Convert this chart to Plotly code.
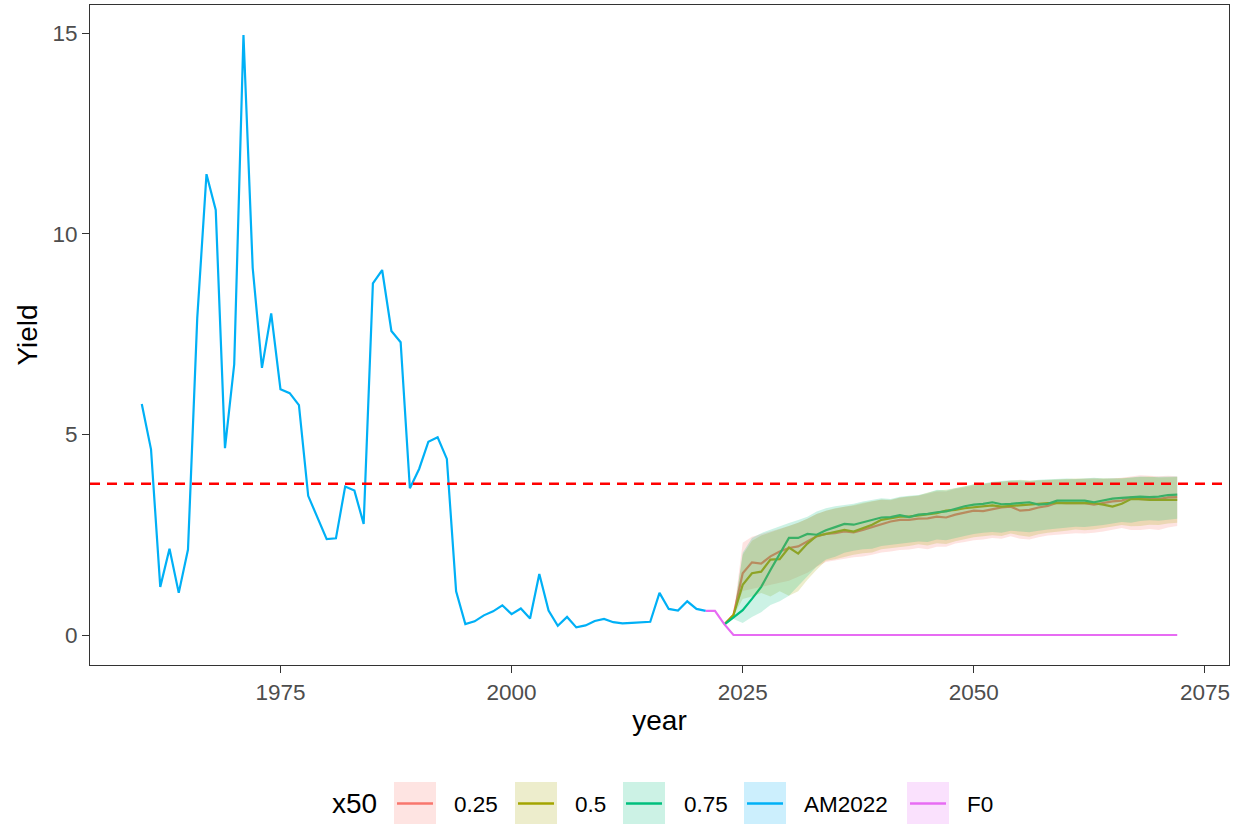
import plotly.graph_objects as go

# ---------------- data ----------------
hist_years = list(range(1960, 2022))
am2022 = [5.76, 4.63, 1.20, 2.15, 1.05, 2.13, 7.90, 11.49, 10.60, 4.66,
          6.75, 14.96, 9.15, 6.66, 8.02, 6.13, 6.03, 5.73, 3.47, 2.95,
          2.39, 2.41, 3.70, 3.60, 2.77, 8.77, 9.10, 7.58, 7.30, 3.66,
          4.14, 4.82, 4.93, 4.39, 1.09, 0.27, 0.34, 0.49, 0.59, 0.74,
          0.52, 0.66, 0.41, 1.52, 0.61, 0.23, 0.45, 0.19, 0.24, 0.35,
          0.40, 0.32, 0.29, 0.30, 0.31, 0.33, 1.05, 0.65, 0.61, 0.84,
          0.65, 0.60]

f0_years = list(range(2021, 2073))
f0 = [0.60, 0.60, 0.27] + [0.0] * 49

proj_years = list(range(2023, 2073))

x025 = [0.26, 0.50, 1.54, 1.81, 1.78, 1.96, 2.08, 2.17, 2.21, 2.33,
        2.46, 2.52, 2.54, 2.58, 2.56, 2.62, 2.69, 2.76, 2.83, 2.87,
        2.87, 2.90, 2.91, 2.95, 2.93, 3.00, 3.05, 3.10, 3.09, 3.14,
        3.18, 3.20, 3.10, 3.12, 3.18, 3.22, 3.30, 3.29, 3.29, 3.29,
        3.25, 3.29, 3.33, 3.35, 3.43, 3.39, 3.39, 3.39, 3.43, 3.44]
x025_lo = [0.26, 0.50, 1.10, 1.15, 1.20, 1.25, 1.30, 1.35, 1.45, 1.55,
           1.70, 1.82, 1.86, 1.90, 1.94, 1.96, 2.00, 2.06, 2.08, 2.12,
           2.13, 2.17, 2.14, 2.20, 2.20, 2.28, 2.32, 2.36, 2.38, 2.42,
           2.40, 2.46, 2.40, 2.38, 2.44, 2.48, 2.50, 2.52, 2.54, 2.53,
           2.55, 2.58, 2.62, 2.67, 2.62, 2.62, 2.64, 2.62, 2.68, 2.72]
x025_hi = [0.26, 0.50, 2.30, 2.45, 2.52, 2.58, 2.65, 2.72, 2.80, 2.90,
           3.02, 3.10, 3.15, 3.20, 3.22, 3.28, 3.33, 3.37, 3.36, 3.42,
           3.44, 3.47, 3.52, 3.58, 3.58, 3.64, 3.68, 3.73, 3.76, 3.80,
           3.82, 3.84, 3.83, 3.82, 3.85, 3.86, 3.87, 3.88, 3.88, 3.90,
           3.90, 3.89, 3.90, 3.92, 3.95, 3.98, 3.97, 3.96, 3.97, 3.96]

x050 = [0.26, 0.50, 1.25, 1.54, 1.58, 1.88, 1.89, 2.18, 2.03, 2.28,
        2.47, 2.52, 2.58, 2.62, 2.58, 2.66, 2.75, 2.87, 2.91, 2.95,
        2.95, 2.98, 3.01, 3.04, 3.10, 3.12, 3.16, 3.18, 3.20, 3.23,
        3.20, 3.22, 3.24, 3.26, 3.27, 3.29, 3.29, 3.29, 3.29, 3.29,
        3.29, 3.25, 3.20, 3.27, 3.39, 3.39, 3.37, 3.37, 3.37, 3.37]
x050_lo = [0.26, 0.48, 0.90, 0.96, 1.05, 0.96, 1.09, 0.98, 1.09, 1.38,
           1.63, 1.85, 1.89, 1.94, 2.00, 2.04, 2.06, 2.14, 2.16, 2.19,
           2.22, 2.26, 2.23, 2.29, 2.27, 2.34, 2.39, 2.44, 2.46, 2.49,
           2.47, 2.53, 2.48, 2.45, 2.51, 2.55, 2.58, 2.60, 2.63, 2.61,
           2.63, 2.66, 2.70, 2.74, 2.71, 2.72, 2.75, 2.74, 2.78, 2.80]
x050_hi = [0.26, 0.50, 2.00, 2.35, 2.48, 2.56, 2.64, 2.72, 2.80, 2.90,
           3.02, 3.10, 3.16, 3.20, 3.24, 3.30, 3.34, 3.38, 3.37, 3.43,
           3.46, 3.48, 3.55, 3.60, 3.62, 3.66, 3.70, 3.75, 3.77, 3.80,
           3.83, 3.85, 3.87, 3.85, 3.86, 3.87, 3.89, 3.89, 3.90, 3.90,
           3.91, 3.91, 3.90, 3.91, 3.92, 3.94, 3.95, 3.93, 3.94, 3.94]

x075 = [0.26, 0.44, 0.62, 0.90, 1.20, 1.62, 2.02, 2.42, 2.42, 2.52,
        2.50, 2.61, 2.69, 2.77, 2.75, 2.81, 2.87, 2.93, 2.94, 2.99,
        2.94, 3.00, 3.02, 3.06, 3.08, 3.14, 3.21, 3.25, 3.27, 3.31,
        3.26, 3.27, 3.29, 3.31, 3.25, 3.27, 3.35, 3.35, 3.35, 3.35,
        3.31, 3.35, 3.40, 3.42, 3.44, 3.45, 3.44, 3.45, 3.49, 3.50]
x075_lo = [0.26, 0.40, 0.30, 0.45, 0.57, 0.75, 0.84, 0.98, 1.21, 1.46,
           1.71, 1.88, 1.95, 2.05, 2.10, 2.14, 2.15, 2.22, 2.25, 2.28,
           2.30, 2.33, 2.32, 2.38, 2.36, 2.42, 2.47, 2.52, 2.55, 2.57,
           2.55, 2.60, 2.58, 2.56, 2.60, 2.63, 2.66, 2.68, 2.70, 2.69,
           2.72, 2.74, 2.78, 2.82, 2.80, 2.84, 2.86, 2.85, 2.88, 2.90]
x075_hi = [0.26, 0.45, 2.05, 2.42, 2.54, 2.63, 2.71, 2.79, 2.87, 2.95,
           3.08, 3.16, 3.21, 3.24, 3.27, 3.33, 3.37, 3.41, 3.39, 3.45,
           3.47, 3.49, 3.54, 3.62, 3.60, 3.66, 3.70, 3.76, 3.78, 3.82,
           3.84, 3.86, 3.86, 3.84, 3.87, 3.88, 3.88, 3.90, 3.89, 3.91,
           3.92, 3.90, 3.91, 3.90, 3.93, 3.95, 3.94, 3.94, 3.95, 3.95]

ref_yield = 3.77

legend_labels = ["0.25", "0.5", "0.75", "AM2022", "F0"]
x_ticks = [1975, 2000, 2025, 2050, 2075]
y_ticks = [0, 5, 10, 15]

# ---------------- styling ----------------
COL = {"0.25": "#F8766D", "0.5": "#A3A500", "0.75": "#00BF7D",
       "AM2022": "#00B0F6", "F0": "#E76BF3"}
FILL = {"0.25": "rgba(248,118,109,0.2)", "0.5": "rgba(163,165,0,0.2)",
        "0.75": "rgba(0,191,125,0.2)", "AM2022": "rgba(0,176,246,0.2)",
        "F0": "rgba(231,107,243,0.2)"}
FONT = "Liberation Sans, Arial, sans-serif"
LW = 2.2

W, H = 1247, 824
ML, MR, MT, MB = 90, 18, 5, 159
PW, PH = W - ML - MR, H - MT - MB

fig = go.Figure()

lines = [("0.25", proj_years, x025), ("0.5", proj_years, x050),
         ("0.75", proj_years, x075), ("AM2022", hist_years, am2022),
         ("F0", f0_years, f0)]
for name, xs, ys in lines:
    fig.add_trace(go.Scatter(x=xs, y=ys, mode="lines", name=name,
                             line=dict(color=COL[name], width=LW),
                             showlegend=False))

bands = [("0.25", x025_lo, x025_hi), ("0.5", x050_lo, x050_hi),
         ("0.75", x075_lo, x075_hi)]
for name, lo, hi in bands:
    fig.add_trace(go.Scatter(x=proj_years + proj_years[::-1],
                             y=hi + lo[::-1], mode="lines", fill="toself",
                             fillcolor=FILL[name], line=dict(width=0),
                             hoverinfo="skip", showlegend=False))

# reference line
fig.add_shape(type="line", xref="paper", x0=0, x1=1, yref="y",
              y0=ref_yield, y1=ref_yield, layer="above",
              line=dict(color="#FF0000", width=2.4, dash="10px,7px"))

# ---------------- manual legend ----------------
def px2x(px):
    return (px - ML) / PW


def py2y(py):
    return (H - MB - py) / PH


annotations = [dict(text="x50", x=px2x(330), y=py2y(803.5), xref="paper",
                    yref="paper", xanchor="left", yanchor="middle",
                    showarrow=False, font=dict(family=FONT, size=28,
                                               color="black"))]
key_left = [394, 515, 623, 744, 907]
text_left = [452, 573, 682, 802, 965]
for lab, kl, tl in zip(legend_labels, key_left, text_left):
    fig.add_shape(type="rect", xref="paper", yref="paper",
                  x0=px2x(kl), x1=px2x(kl + 42), y0=py2y(782), y1=py2y(825),
                  line=dict(width=0), fillcolor=FILL[lab], layer="above")
    fig.add_shape(type="line", xref="paper", yref="paper",
                  x0=px2x(kl + 3), x1=px2x(kl + 39),
                  y0=py2y(803.5), y1=py2y(803.5),
                  line=dict(color=COL[lab], width=2.6), layer="above")
    annotations.append(dict(text=lab, x=px2x(tl), y=py2y(804),
                            xref="paper", yref="paper", xanchor="left",
                            yanchor="middle", showarrow=False,
                            font=dict(family=FONT, size=22.5, color="black")))

axis_common = dict(showgrid=False, zeroline=False, showline=True,
                   linecolor="#333333", linewidth=1, mirror=True,
                   ticks="outside", ticklen=7, tickwidth=1,
                   tickcolor="#333333",
                   tickfont=dict(family=FONT, size=22.5, color="#4D4D4D"))

fig.update_layout(
    width=W, height=H,
    margin=dict(l=ML, r=MR, t=MT, b=MB, autoexpand=False),
    paper_bgcolor="white", plot_bgcolor="white",
    font=dict(family=FONT),
    hovermode=False,
    xaxis=dict(range=[1954.4, 2077.6], tickvals=x_ticks,
               title=dict(text="year", standoff=6,
                          font=dict(family=FONT, size=28, color="black")),
               **axis_common),
    yaxis=dict(range=[-0.748, 15.708], tickvals=y_ticks,
               title=dict(text="Yield", standoff=6,
                          font=dict(family=FONT, size=28, color="black")),
               **axis_common),
    annotations=annotations,
)

fig.write_html("out.html",
               config={"displayModeBar": False},
               post_script="document.body.style.margin='0';"
                           "document.body.style.overflow='hidden';")
